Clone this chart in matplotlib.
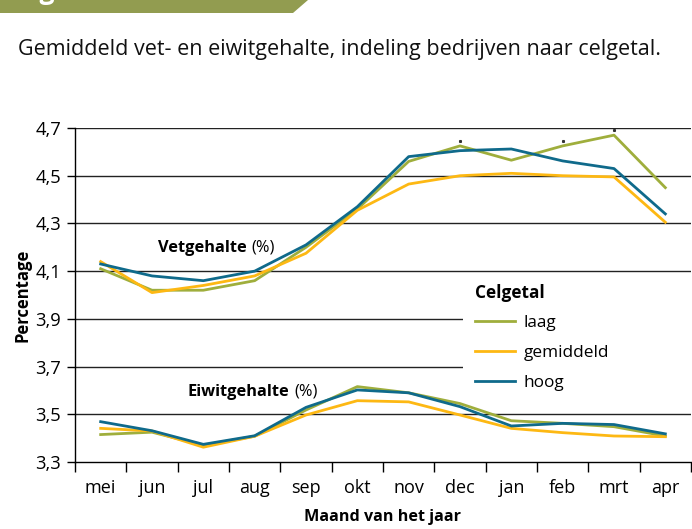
import matplotlib
matplotlib.use("Agg")
from matplotlib import pyplot as plt
from matplotlib.patches import Polygon, Rectangle
from matplotlib.ticker import FuncFormatter

plt.rcParams['font.family'] = ['Open Sans', 'DejaVu Sans']

months = ["mei", "jun", "jul", "aug", "sep", "okt", "nov", "dec", "jan", "feb", "mrt", "apr"]

# vetgehalte (%) per celgetal-klasse
vet_laag = [4.11, 4.02, 4.02, 4.06, 4.20, 4.36, 4.56, 4.625, 4.565, 4.625, 4.67, 4.45]
vet_gemiddeld = [4.14, 4.01, 4.04, 4.08, 4.175, 4.355, 4.465, 4.50, 4.51, 4.50, 4.495, 4.305]
vet_hoog = [4.13, 4.08, 4.06, 4.10, 4.21, 4.37, 4.58, 4.605, 4.612, 4.562, 4.53, 4.34]

# eiwitgehalte (%) per celgetal-klasse
eiwit_laag = [3.415, 3.425, 3.37, 3.408, 3.518, 3.616, 3.59, 3.545, 3.473, 3.462, 3.448, 3.409]
eiwit_gemiddeld = [3.441, 3.43, 3.362, 3.408, 3.497, 3.557, 3.552, 3.497, 3.441, 3.423, 3.409, 3.406]
eiwit_hoog = [3.469, 3.431, 3.374, 3.41, 3.529, 3.602, 3.59, 3.532, 3.451, 3.462, 3.457, 3.418]

# kleine puntjes boven de 'laag'-lijn (dec, feb, mrt)
dot_months = [7, 9, 10]

y_ticks = [3.3, 3.5, 3.7, 3.9, 4.1, 4.3, 4.5, 4.7]

c_laag = "#9fae3c"
c_gem = "#fdb813"
c_hoog = "#0f6a8b"

W, H = 692, 529
fig = plt.figure(figsize=(W / 100, H / 100), dpi=100)

# banner at the top
banner = Polygon([(0, 1), (308 / W, 1), (293 / W, 1 - 13 / H), (0, 1 - 13 / H)],
                 closed=True, transform=fig.transFigure, facecolor="#929c50",
                 edgecolor="none")
fig.patches.append(banner)
fig.text(18 / W, 1 + 1 / H, "Figuur", color="white", fontsize=19, fontweight="bold",
         va="baseline", ha="left")

fig.text(18 / W, 1 - 49 / H, "Gemiddeld vet- en eiwitgehalte, indeling bedrijven naar celgetal.",
         fontsize=15.5, va="center", ha="left", color="#111111")

ax = fig.add_axes([75 / W, (H - 462) / H, 616 / W, 334 / H])

x = list(range(len(months)))
lw = 2.0
ax.plot(x, vet_laag, color=c_laag, lw=lw, label="laag", zorder=3)
ax.plot(x, vet_gemiddeld, color=c_gem, lw=lw, label="gemiddeld", zorder=3)
ax.plot(x, vet_hoog, color=c_hoog, lw=lw, label="hoog", zorder=3)
ax.plot(x, eiwit_laag, color=c_laag, lw=lw, zorder=3)
ax.plot(x, eiwit_gemiddeld, color=c_gem, lw=lw, zorder=3)
ax.plot(x, eiwit_hoog, color=c_hoog, lw=lw, zorder=3)
ax.plot(dot_months, [vet_laag[i] + 0.02 for i in dot_months], ls="none", marker="s",
        ms=1.2, color="#333333", zorder=3)

ax.set_xlim(-0.5, len(months) - 0.5)
ax.set_ylim(3.3, 4.7)

for v in y_ticks[1:]:
    ax.axhline(v, color="#222222", lw=1.0, zorder=1)

# white area behind the legend
ax.add_patch(Rectangle((0.63, 0.2), 0.37, 0.345, transform=ax.transAxes,
                       facecolor="white", edgecolor="none", zorder=2))

ax.set_yticks(y_ticks)
ax.yaxis.set_major_formatter(FuncFormatter(lambda v, p: f"{v:.1f}".replace(".", ",")))
ax.set_xticks([i - 0.5 for i in range(len(months) + 1)])
ax.set_xticklabels([])
ax.set_xticks(x, minor=True)
ax.set_xticklabels(months, minor=True)
ax.tick_params(axis="x", which="minor", length=0, labelsize=13, pad=12)
ax.tick_params(axis="x", which="major", length=7, width=1.0, direction="out")
ax.tick_params(axis="y", length=6, width=1.0, labelsize=13.2, pad=4)

for s in ["top", "right"]:
    ax.spines[s].set_visible(False)
ax.spines["left"].set_linewidth(1.0)
ax.spines["bottom"].set_linewidth(1.0)

ax.set_ylabel("Percentage", fontsize=12, fontweight="bold", labelpad=3)
ax.set_xlabel("Maand van het jaar", fontsize=11.6, fontweight="bold", labelpad=9)

# annotaties: vet gedeelte + "(%)" er direct achter
t1 = fig.text(158 / W, 1 - 248 / H, "Vetgehalte", fontsize=11.8, fontweight="bold",
              va="center", ha="left")
ax.annotate("(%)", xy=(1, 0.5), xycoords=t1, xytext=(3, 0), textcoords="offset points",
            fontsize=11.8, va="center", ha="left")
t2 = fig.text(188 / W, 1 - 392 / H, "Eiwitgehalte", fontsize=11.8, fontweight="bold",
              va="center", ha="left")
ax.annotate("(%)", xy=(1, 0.5), xycoords=t2, xytext=(3, 0), textcoords="offset points",
            fontsize=11.8, va="center", ha="left")

leg = ax.legend(loc="upper left", bbox_to_anchor=(460 / W, 1 - 268 / H),
                bbox_transform=fig.transFigure, frameon=False, fontsize=12.4,
                title="Celgetal", title_fontproperties={"weight": "bold", "size": 12.4},
                alignment="left", handlelength=2.3, labelspacing=0.8, handletextpad=0.5)

fig.savefig("out.png", dpi=100)
